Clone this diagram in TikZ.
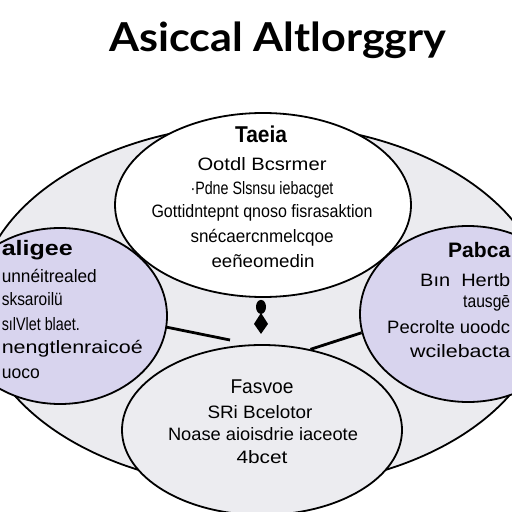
\documentclass[tikz,border=0pt]{standalone}
\usepackage{fontspec}
\setmainfont{Liberation Sans}
\newfontfamily\titlefont{Lato}
\usetikzlibrary{shapes.geometric}
\definecolor{outerc}{HTML}{EBEBEF}
\definecolor{lavc}{HTML}{D8D4EE}
\definecolor{botc}{HTML}{ECECF0}
\newlength\fitlen
\newcommand\fitto[2]{\settowidth\fitlen{#2}\scalebox{\fpeval{#1/\fitlen}}[1]{#2}}
\begin{document}
\begin{tikzpicture}[x=1bp,y=-1bp,
  ell/.style={draw=black, line width=1.8bp, ellipse, inner sep=0pt},
  txt/.style={inner sep=0pt, anchor=base, font=\fontsize{18}{20}\selectfont},
  txtl/.style={txt, anchor=base east},
  txtr/.style={txt, anchor=base west},
  conn/.style={draw=black, line width=2.8bp}]
\useasboundingbox (0,0) rectangle (512,512);
\clip (0,0) rectangle (512,512);
% ellipses
\node[ell, fill=outerc, minimum width=568bp, minimum height=364bp] (O) at (262,306) {};
\node[ell, fill=lavc, minimum width=214bp, minimum height=176bp] (L) at (60,316) {};
\node[ell, fill=lavc, minimum width=216bp, minimum height=176bp] (R) at (468,314) {};
\node[ell, fill=white, minimum width=296bp, minimum height=184bp] (T) at (263,205) {};
\node[ell, fill=botc, minimum width=280bp, minimum height=170bp] (B) at (262,430) {};
% title
\node[inner sep=0pt, anchor=base, font=\titlefont\bfseries\fontsize{40}{44}\selectfont] (title) at (278,52) {\fitto{337bp}{Asiccal Altlorggry}};
% top texts
\node[txt, font=\bfseries\fontsize{23}{26}\selectfont] (t1) at (261,143) {\fitto{52bp}{Taeia}};
\node[txt] (t2) at (262,171) {\fitto{129bp}{Ootdl Bcsrmer}};
\node[txt] (t3) at (262,195) {\fitto{143bp}{·Pdne Slsnsu iebacget}};
\node[txt] (t4) at (262,217) {\fitto{221bp}{Gottidntepnt qnoso fisrasaktion}};
\node[txt] (t5) at (262,242) {\fitto{143bp}{snécaercnmelcqoe}};
\node[txt] (t6) at (263,267) {\fitto{103bp}{eeñeomedin}};
% left texts
\node[txtl, font=\bfseries\fontsize{21}{24}\selectfont] (l1) at (73,255) {\fitto{71bp}{aligee}};
\node[txtl] (l2) at (97,282) {\fitto{95bp}{unnéitrealed}};
\node[txtl] (l3) at (63,305) {\fitto{61bp}{sksaroilü}};
\node[txtl] (l4) at (80,330) {\fitto{78bp}{sılVlet blaet.}};
\node[txtl] (l5) at (143,353) {\fitto{141bp}{nengtlenraicoé}};
\node[txtl] (l6) at (40,378) {\fitto{38bp}{uoco}};
% right texts
\node[txtr, font=\bfseries\fontsize{21}{24}\selectfont] (r1) at (448,257) {\fitto{62bp}{Pabca}};
\node[txtr] (r2) at (420,286) {\fitto{90bp}{Bın\ \ Hertb}};
\node[txtr] (r3) at (463,307) {\fitto{47bp}{tausgē}};
\node[txtr] (r4) at (387,333) {\fitto{123bp}{Pecrolte uoodc}};
\node[txtr] (r5) at (410,357) {\fitto{100bp}{wcilebacta}};
% bottom texts
\node[txt, font=\fontsize{20}{22}\selectfont] (b1) at (262,393) {\fitto{63bp}{Fasvoe}};
\node[txt] (b2) at (260,418) {\fitto{105bp}{SRi Bcelotor}};
\node[txt] (b3) at (263,440) {\fitto{190bp}{Noase aioisdrie iaceote}};
\node[txt] (b4) at (262,463) {\fitto{51bp}{4bcet}};
% connectors
\coordinate (lend) at (230,340);
\draw[conn] (L.-6) -- (lend);
\draw[conn] (B.59) -- (R.190);
\fill[shift={(T.south)}] (-2,9) ellipse [x radius=5bp, y radius=7bp];
\fill[shift={(T.south)}] (-2,15) -- (5,26) -- (-2,36) -- (-9,26) -- cycle;
\end{tikzpicture}
\end{document}
